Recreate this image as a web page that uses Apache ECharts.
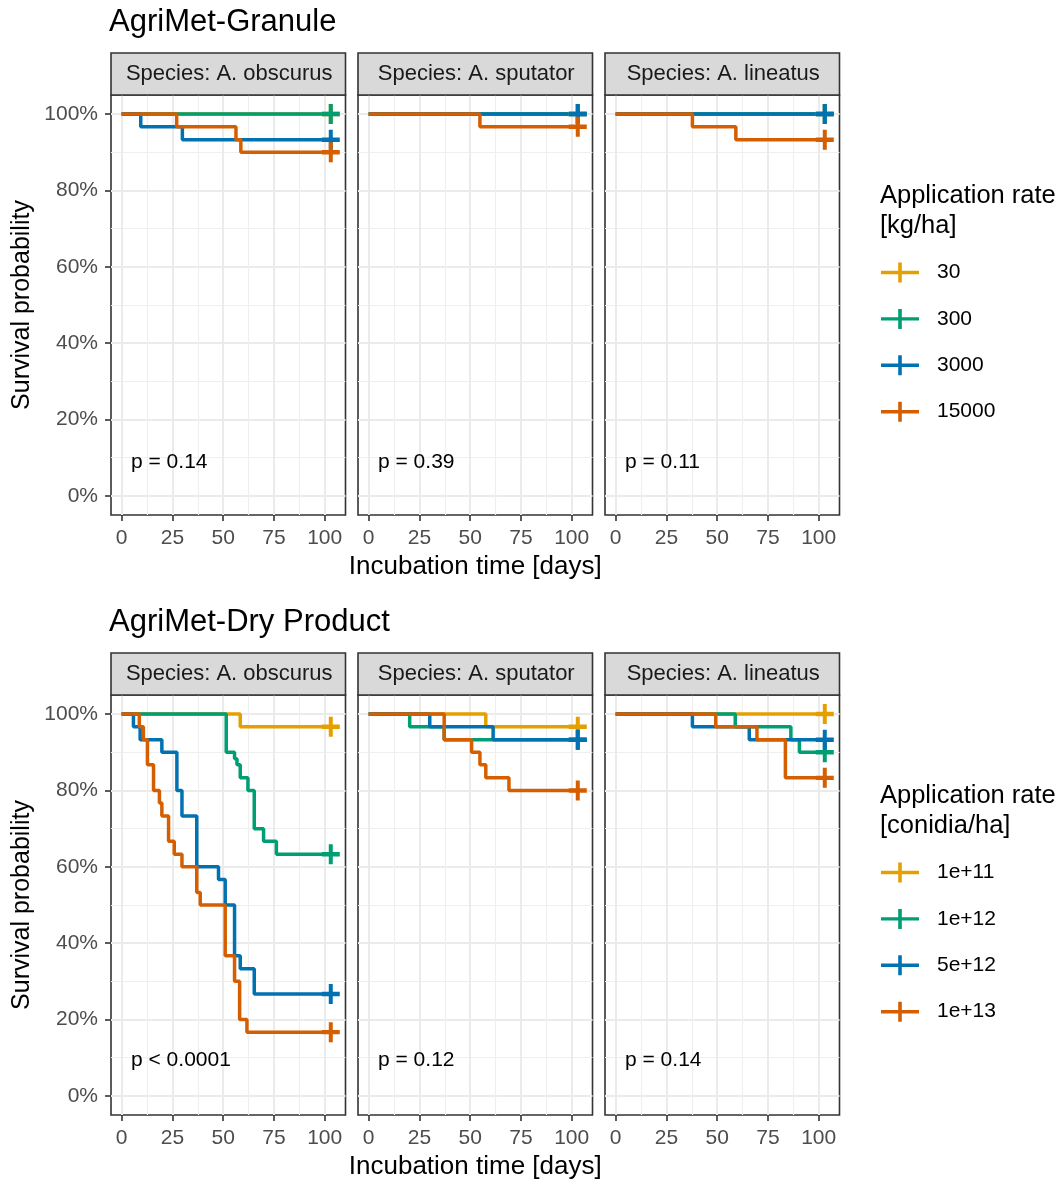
<!DOCTYPE html>
<html><head><meta charset="utf-8">
<script src="https://cdn.jsdelivr.net/npm/echarts@6/dist/echarts.min.js"></script>
<style>html,body{margin:0;padding:0;background:#fff}#c{width:1063px;height:1183px}</style>
</head><body><div id="c"></div>
<script>
const species = ['Species: A. obscurus','Species: A. sputator','Species: A. lineatus'];
const granuleRates = ['30','300','3000','15000'];
const dryRates = ['1e+11','1e+12','5e+12','1e+13'];
const xTicks = [0,25,50,75,100];
const xMinor = [12.5,37.5,62.5,87.5];
const yTicks = [0,0.2,0.4,0.6,0.8,1];
const yMinor = [0.1,0.3,0.5,0.7,0.9];
const granulePvals = ['p = 0.14','p = 0.39','p = 0.11'];
const dryPvals = ['p < 0.0001','p = 0.12','p = 0.14'];

// AgriMet-Granule: [time (days), survival]
const g_obs_30 = [[0,1],[103,1]];
const g_obs_300 = [[0,1],[103,1]];
const g_obs_3000 = [[0,1],[9.4,0.967],[29.9,0.933],[103,0.933]];
const g_obs_15000 = [[0,1],[27.1,0.967],[56.3,0.933],[58.7,0.9],[103,0.9]];
const g_spu_30 = [[0,1],[103,1]];
const g_spu_300 = [[0,1],[103,1]];
const g_spu_3000 = [[0,1],[103,1]];
const g_spu_15000 = [[0,1],[54.8,0.967],[103,0.967]];
const g_lin_30 = [[0,1],[103,1]];
const g_lin_300 = [[0,1],[103,1]];
const g_lin_3000 = [[0,1],[103,1]];
const g_lin_15000 = [[0,1],[37.8,0.967],[59.2,0.933],[103,0.933]];

// AgriMet-Dry Product
const d_obs_1e11 = [[0,1],[58.4,0.967],[103,0.967]];
const d_obs_1e12 = [[0,1],[51.5,0.9],[55.6,0.883],[56.8,0.867],[58.4,0.833],[62.2,0.8],[65.3,0.7],[69.9,0.667],[76.2,0.633],[103,0.633]];
const d_obs_5e12 = [[0,1],[5.8,0.967],[9.1,0.933],[19.8,0.9],[27.2,0.8],[29.7,0.733],[37,0.6],[47.7,0.567],[51,0.5],[55.6,0.367],[58.4,0.333],[65.3,0.267],[103,0.267]];
const d_obs_1e13 = [[0,1],[8.7,0.967],[10.7,0.933],[12.7,0.867],[15.7,0.8],[18.6,0.767],[19.8,0.733],[23.1,0.667],[25.9,0.633],[29.7,0.6],[37,0.533],[38.7,0.5],[51,0.367],[55.6,0.3],[58.1,0.2],[61.7,0.167],[103,0.167]];
const d_spu_1e11 = [[0,1],[57.7,0.967],[103,0.967]];
const d_spu_1e12 = [[0,1],[20.2,0.967],[37.2,0.933],[103,0.933]];
const d_spu_5e12 = [[0,1],[30.1,0.967],[61.3,0.933],[103,0.933]];
const d_spu_1e13 = [[0,1],[37.2,0.933],[50.7,0.9],[54.8,0.867],[57.7,0.833],[69.1,0.8],[103,0.8]];
const d_lin_1e11 = [[0,1],[103,1]];
const d_lin_1e12 = [[0,1],[58.9,0.967],[86.3,0.933],[90.5,0.9],[103,0.9]];
const d_lin_5e12 = [[0,1],[37.8,0.967],[65.8,0.933],[103,0.933]];
const d_lin_1e13 = [[0,1],[49.3,0.967],[69.6,0.933],[83.6,0.833],[103,0.833]];

const colors = ['#E69F00','#009E73','#0072B2','#D55E00'];
const FONT = '"Liberation Sans", Arial, sans-serif';

const sections = [
  {title:'AgriMet-Granule', rates: granuleRates, pvals: granulePvals, legendSub:'[kg/ha]', yOff:0,
   panels:[[g_obs_30,g_obs_300,g_obs_3000,g_obs_15000],[g_spu_30,g_spu_300,g_spu_3000,g_spu_15000],[g_lin_30,g_lin_300,g_lin_3000,g_lin_15000]]},
  {title:'AgriMet-Dry Product', rates: dryRates, pvals: dryPvals, legendSub:'[conidia/ha]', yOff:600,
   panels:[[d_obs_1e11,d_obs_1e12,d_obs_5e12,d_obs_1e13],[d_spu_1e11,d_spu_1e12,d_spu_5e12,d_spu_1e13],[d_lin_1e11,d_lin_1e12,d_lin_5e12,d_lin_1e13]]}
];

const panelLeft = [111, 358, 605];
const panelW = 234.5, panelTop = 95, panelH = 420, stripTop = 53;
const plusPath = 'path://M-2,-9L2,-9L2,-2L9,-2L9,2L2,2L2,9L-2,9L-2,2L-9,2L-9,-2L-2,-2Z';
const keyPath = 'path://M0,8.3L38,8.3L38,11.7L0,11.7Z M17.2,0L20.8,0L20.8,20L17.2,20Z';

const grid = [], xAxis = [], yAxis = [], series = [], graphic = [], legend = [];

sections.forEach((sec, s) => {
  const yo = sec.yOff;
  graphic.push({type:'text', x:109, y:22 + yo, style:{text: sec.title, fontSize:31, fontFamily:FONT, fill:'#000', align:'left', verticalAlign:'middle'}});
  graphic.push({type:'text', x:22, y:(panelTop+panelH/2)+yo, rotation:Math.PI/2,
    style:{text:'Survival probability', fontSize:25, fontFamily:FONT, fill:'#000', align:'center', verticalAlign:'middle'}});
  graphic.push({type:'text', x:(panelLeft[0]+panelLeft[2]+panelW)/2, y:567+yo,
    style:{text:'Incubation time [days]', fontSize:26, fontFamily:FONT, fill:'#000', align:'center', verticalAlign:'middle'}});
  graphic.push({type:'text', x:880, y:196+yo, style:{text:'Application rate', fontSize:25.5, fontFamily:FONT, fill:'#000', align:'left', verticalAlign:'middle'}});
  graphic.push({type:'text', x:880, y:226+yo, style:{text:sec.legendSub, fontSize:25.5, fontFamily:FONT, fill:'#000', align:'left', verticalAlign:'middle'}});

  legend.push({
    data: sec.rates.map(n => ({name:n, icon:keyPath})),
    left: 881, top: 262+yo, orient:'vertical', itemWidth:38, itemHeight:20, itemGap:25.4,
    selectedMode:false, padding:0,
    textStyle:{fontSize:21, fontFamily:FONT, color:'#000', padding:[0,0,0,13]}
  });

  sec.panels.forEach((curves, p) => {
    const gi = s*3 + p;
    const left = panelLeft[p];
    grid.push({left:left, top:panelTop+yo, width:panelW, height:panelH, show:true,
      borderColor:'#333333', borderWidth:1.6, backgroundColor:'#fff'});
    graphic.push({type:'rect', shape:{x:left, y:stripTop+yo, width:panelW, height:panelTop-stripTop}, z:10,
      style:{fill:'#D9D9D9', stroke:'#333333', lineWidth:1.6}});
    graphic.push({type:'text', x:left+panelW/2+1, y:(stripTop+panelTop)/2+yo, z:11,
      style:{text:species[p], fontSize:22, fontFamily:FONT, fill:'#1A1A1A', align:'center', verticalAlign:'middle'}});
    graphic.push({type:'text', x:left+20, y:(s===0?462:1060), z:11,
      style:{text:sec.pvals[p], fontSize:21, fontFamily:FONT, fill:'#000', align:'left', verticalAlign:'middle'}});

    xAxis.push({type:'value', gridIndex:gi, min:-5.25, max:110.25, position:'bottom',
      axisLine:{show:false, onZero:false},
      axisTick:{show:true, customValues:xTicks, length:6, lineStyle:{color:'#333333', width:1.6}},
      axisLabel:{show:true, customValues:xTicks, margin:13, fontSize:21, fontFamily:FONT, color:'#4D4D4D'},
      splitLine:{show:true, lineStyle:{color:'#EBEBEB', width:2}}});
    xAxis.push({type:'value', gridIndex:gi, min:-5.25, max:110.25, position:'bottom',
      axisLine:{show:false, onZero:false},
      axisTick:{show:false, customValues:xMinor},
      axisLabel:{show:false},
      splitLine:{show:true, lineStyle:{color:'#EFEFEF', width:1.2}}});
    yAxis.push({type:'value', gridIndex:gi, min:-0.05, max:1.05, position:'left',
      axisLine:{show:false, onZero:false},
      axisTick:{show:p===0, customValues:yTicks, length:6, lineStyle:{color:'#333333', width:1.6}},
      axisLabel:{show:p===0, customValues:yTicks, margin:13, fontSize:21, fontFamily:FONT, color:'#4D4D4D',
        formatter: v => Math.round(v*100) + '%'},
      splitLine:{show:true, lineStyle:{color:'#EBEBEB', width:2}}});
    yAxis.push({type:'value', gridIndex:gi, min:-0.05, max:1.05, position:'left',
      axisLine:{show:false, onZero:false},
      axisTick:{show:false, customValues:yMinor},
      axisLabel:{show:false},
      splitLine:{show:true, lineStyle:{color:'#EFEFEF', width:1.2}}});

    curves.forEach((arr, r) => {
      series.push({type:'line', name:sec.rates[r], xAxisIndex:2*gi, yAxisIndex:2*gi, data:arr, step:'end',
        symbol:'none', silent:true, z:2+r*0.01, lineStyle:{width:3.5, color:colors[r]}, itemStyle:{color:colors[r]}});
    });
    curves.forEach((arr, r) => {
      series.push({type:'scatter', name:sec.rates[r], xAxisIndex:2*gi, yAxisIndex:2*gi, data:[arr[arr.length-1]],
        symbol:plusPath, symbolSize:[18,20], silent:true, z:3+r*0.01, itemStyle:{color:colors[r], opacity:1}});
    });
  });
});

const chart = echarts.init(document.getElementById('c'), null, {renderer:'canvas'});
chart.setOption({animation:false, backgroundColor:'#fff', grid, xAxis, yAxis, series, legend, graphic});
</script></body></html>
